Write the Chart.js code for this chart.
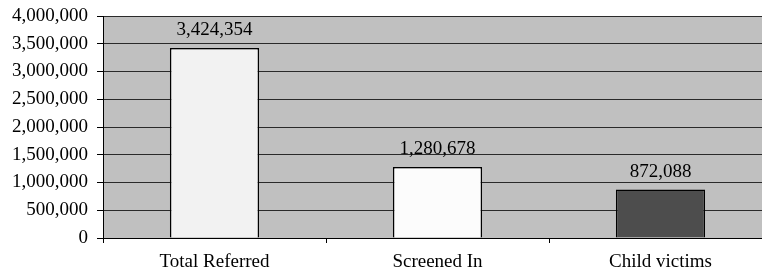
<!DOCTYPE html>
<html>
<head>
<meta charset="utf-8">
<script src="https://cdn.jsdelivr.net/npm/chart.js@4.4.1/dist/chart.umd.min.js"></script>
<style>
  html, body { margin:0; padding:0; background:#fff; overflow:hidden; }
  #wrap { width:772px; height:273px; }
</style>
</head>
<body>
<div id="wrap"><canvas id="c" width="772" height="273"></canvas></div>
<script>
var categories = ['Total Referred', 'Screened In', 'Child victims'];
var counts = [3424354, 1280678, 872088];
var barColors = ['#F2F2F2', '#FCFCFC', '#4D4D4D'];
var yTicks = [0, 500000, 1000000, 1500000, 2000000, 2500000, 3000000, 3500000, 4000000];

var FONT = {family:"'Liberation Serif', 'Times New Roman', serif", size:19};

// grey plot area like the old excel chart
var plotBg = {
    id:'plotBg',
    beforeDraw(chart){
        var a=chart.chartArea, ctx=chart.ctx;
        ctx.save();
        ctx.fillStyle='#C0C0C0';
        ctx.fillRect(a.left,a.top,a.right-a.left,a.bottom-a.top);
        ctx.restore();
    }
};

// value above each bar
var barLabels = {
    id:'barLabels',
    afterDatasetsDraw(chart){
        var ctx=chart.ctx;
        var meta=chart.getDatasetMeta(0);
        ctx.save();
        ctx.font=FONT.size+'px '+FONT.family;
        ctx.fillStyle='#000';
        ctx.textAlign='center';
        ctx.textBaseline='alphabetic';
        meta.data.forEach(function(bar,i){
            ctx.fillText(counts[i].toLocaleString('en-US'), bar.x, bar.y-13);
        });
        ctx.restore();
    }
};

new Chart(document.getElementById('c'), {
    type:'bar',
    data:{
        labels:categories,
        datasets:[{
            data:counts,
            backgroundColor:barColors,
            borderColor:'#000',
            borderWidth:1.5,
            barPercentage:0.4,
            categoryPercentage:1.0
        }]
    },
    options:{
        responsive:false,
        animation:false,
        layout:{padding:{top:16,left:0,right:0,bottom:0}},
        plugins:{legend:{display:false}, tooltip:{enabled:false}},
        scales:{
            x:{
                grid:{drawOnChartArea:false, drawTicks:true, tickLength:5, color:'#000', offset:true},
                border:{color:'#000', width:1},
                ticks:{color:'#000', font:FONT, padding:8, maxRotation:0},
                afterFit:function(s){ s.height=35; s.paddingLeft=0; s.paddingRight=0; }
            },
            y:{
                min:0, max:4000000,
                afterBuildTicks:function(s){ s.ticks=yTicks.map(function(v){return {value:v};}); },
                grid:{color:'#2a2a2a', tickColor:'#000', tickLength:6},
                border:{color:'#000', width:1},
                ticks:{color:'#000', font:FONT, padding:9,
                    callback:function(v){ return v.toLocaleString('en-US'); }},
                afterFit:function(s){ s.width=103; s.paddingTop=0; s.paddingBottom=0; }
            }
        }
    },
    plugins:[plotBg, barLabels]
});
</script>
</body>
</html>
